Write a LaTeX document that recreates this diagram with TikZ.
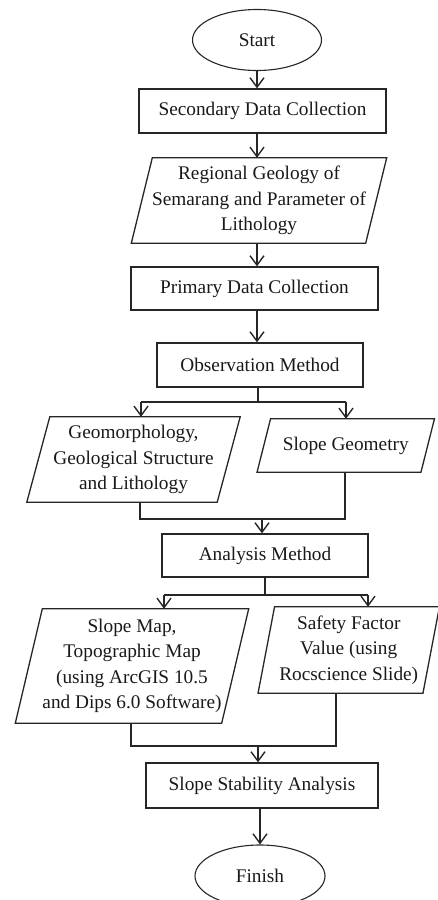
\documentclass[tikz,border=0pt]{standalone}
\usepackage{fontspec}
\setmainfont{Liberation Serif}
\usetikzlibrary{shapes.geometric,arrows.meta,calc}

% outline of a slanted (data) box around a plain text node
\newcommand\slantbox[2]{%
  \draw[line] ([xshift=#2]#1.north west) -- ([xshift=#2]#1.north east)
    -- ([xshift=-#2]#1.south east) -- ([xshift=-#2]#1.south west) -- cycle;}

\begin{document}
\begin{tikzpicture}[x=1pt,y=-1pt,
  line/.style={line width=1.3pt, draw=black!85},
  arr/.style={line, -{Straight Barb[length=9.5pt,width=14pt,line width=1.4pt]}},
  txt/.style={font=\fontsize{19.3}{25.5}\selectfont, align=center, inner sep=0pt, text=black!90},
  procbox/.style={txt, draw=black!85, line width=1.3pt, rectangle},
  termbox/.style={txt, draw=black!85, line width=1.1pt, ellipse},
  databox/.style={txt, rectangle}]
\useasboundingbox (0,0) rectangle (437,900);

% terminals and process steps
\node[termbox, minimum width=129pt, minimum height=61pt] (start) at (257,40) {Start};
\node[procbox, minimum width=247pt, minimum height=44pt] (sec) at (262.5,111) {Secondary Data Collection};
\node[databox, minimum width=234pt, minimum height=85pt] (reg) at (259,200.5)
  {Regional Geology of\\Semarang and Parameter of\\Lithology};
\node[procbox, minimum width=247pt, minimum height=43pt] (prim) at (254.5,288.5) {Primary Data Collection};
\node[procbox, minimum width=206pt, minimum height=44pt] (obs) at (260,365) {Observation Method};
\node[databox, minimum width=190pt, minimum height=85pt] (gm) at (133.5,459.5)
  {Geomorphology,\\Geological Structure\\and Lithology};
\node[databox, minimum width=163.5pt, minimum height=53pt] (sg) at (345.75,445.5) {Slope Geometry};
\node[procbox, minimum width=206pt, minimum height=43pt] (ana) at (265,555.5) {Analysis Method};
\node[databox, minimum width=206pt, minimum height=114pt] (sm) at (132,666)
  {Slope Map,\\Topographic Map\\(using ArcGIS 10.5\\and Dips 6.0 Software)};
\node[databox, minimum width=164.5pt, minimum height=86pt] (sf) at (348.75,650)
  {Safety Factor\\Value (using\\Rocscience Slide)};
\node[procbox, minimum width=232pt, minimum height=45pt] (ssa) at (262,785.5) {Slope Stability Analysis};
\node[termbox, minimum width=130pt, minimum height=62pt] (fin) at (260,876) {Finish};

% slanted outlines of the data boxes
\slantbox{reg}{10.5pt}
\slantbox{gm}{11.5pt}
\slantbox{sg}{6.75pt}
\slantbox{sm}{13.5pt}
\slantbox{sf}{8.25pt}

% branch and merge points
\coordinate (split1) at (258,402);
\coordinate (gmIn) at (141,402);
\coordinate (sgIn) at (346,402);
\coordinate (gmOut) at (140,519);
\coordinate (sgOut) at (345,519);
\coordinate (merge1) at (262,519);
\coordinate (split2) at (265,595);
\coordinate (smIn) at (164,595);
\coordinate (sfIn) at (368,595);
\coordinate (smOut) at (131,746);
\coordinate (sfOut) at (336,746);
\coordinate (merge2) at (258,746);

% main chain
\draw[arr] (start.south) -- (start.south |- sec.north);
\draw[arr] (sec.south -| start) -- (reg.north -| start);
\draw[arr] (reg.south -| start) -- (prim.north -| start);
\draw[arr] (prim.south -| start) -- (obs.north -| start);

% observation split
\draw[line] (obs.south -| split1) -- (split1);
\draw[line] (gmIn) -- (sgIn);
\draw[arr] (gmIn) -- (gmIn |- gm.north);
\draw[arr] (sgIn) -- (sgIn |- sg.north);

% merge into analysis
\draw[line] (gm.south -| gmOut) -- (gmOut) -- (sgOut) -- (sg.south -| sgOut);
\draw[arr] (merge1) -- (merge1 |- ana.north);

% analysis split
\draw[line] (ana.south -| split2) -- (split2);
\draw[line] (smIn) -- (sfIn);
\draw[arr] (smIn) -- (smIn |- sm.north);
\draw[arr] (sfIn) -- (sfIn |- sf.north);

% merge into stability analysis
\draw[line] (sm.south -| smOut) -- (smOut) -- (sfOut) -- (sf.south -| sfOut);
\draw[arr] (merge2) -- (merge2 |- ssa.north);
\draw[arr] (ssa.south -| fin) -- (fin.north);
\end{tikzpicture}
\end{document}
